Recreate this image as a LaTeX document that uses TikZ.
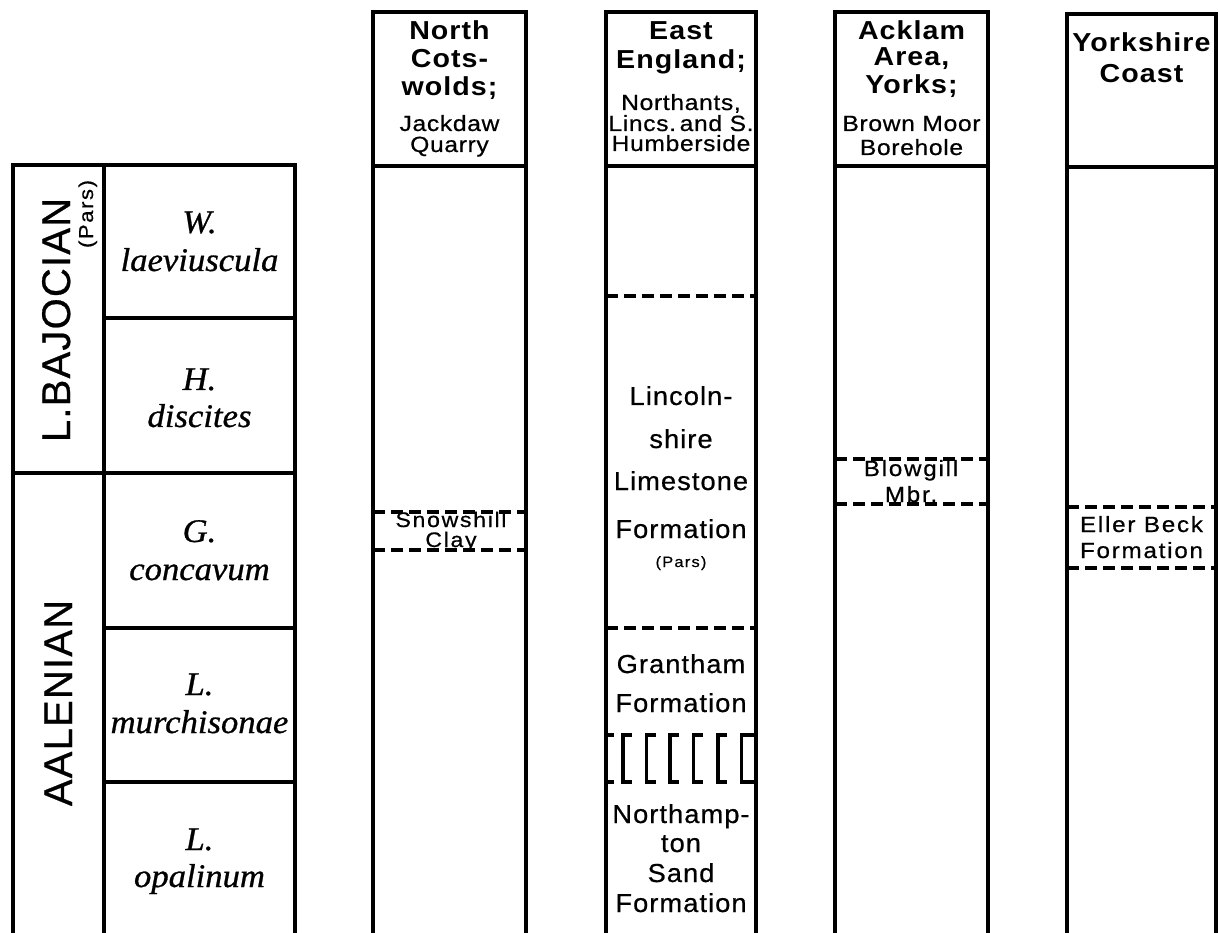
\documentclass[tikz,border=0pt]{standalone}
\usepackage{fontspec}
\setmainfont{Liberation Sans}
\newfontfamily\fhead{Liberation Sans}[FakeStretch=1.1,LetterSpace=4]
\newfontfamily\freg{Liberation Sans}[FakeStretch=1.12,LetterSpace=3,FakeBold=0.6]
\newfontfamily\fbody{Liberation Sans}[FakeStretch=1.05,LetterSpace=4,FakeBold=0.6]
\newfontfamily\fsmall{Liberation Sans}[FakeStretch=1.1,LetterSpace=8,FakeBold=0.6]
\newfontfamily\fbig{Liberation Sans}[LetterSpace=3,FakeBold=0.6]
\newfontfamily\fzone{Liberation Serif}[FakeStretch=1.05,FakeBold=0.8]
\begin{document}
\begin{tikzpicture}[x=1pt,y=-1pt,
  wall/.style={line width=3.2pt},
  dsh/.style={line width=3.2pt, dash pattern=on 12pt off 6pt},
  hb/.style={font=\fhead\bfseries\fontsize{26}{28}\selectfont, anchor=base, inner sep=0pt},
  hr/.style={font=\freg\fontsize{22}{24}\selectfont, anchor=base, inner sep=0pt},
  bd/.style={font=\fbody\fontsize{26}{28}\selectfont, anchor=base, inner sep=0pt},
  sm/.style={font=\fsmall\fontsize{22}{24}\selectfont, anchor=base, inner sep=0pt},
  smc/.style={font=\fsmall\fontsize{21}{23}\selectfont, anchor=base, inner sep=0pt},
  tiny/.style={font=\fsmall\fontsize{15}{17}\selectfont, anchor=base, inner sep=0pt},
  big/.style={font=\fbig\fontsize{40}{44}\selectfont, anchor=base, inner sep=0pt, rotate=90},
  zn/.style={font=\fzone\itshape\fontsize{33}{36}\selectfont, anchor=base, inner sep=0pt}]
\useasboundingbox (0,0) rectangle (1219,933);

% ---------------- left stratigraphic table ----------------
\draw[wall] (13,933) -- (13,165) -- (295,165) -- (295,933);
\draw[wall] (104,165) -- (104,933);
\draw[wall] (104,318) -- (295,318);
\draw[wall] (13,473) -- (295,473);
\draw[wall] (104,628) -- (295,628);
\draw[wall] (104,782) -- (295,782);

\node[big] (baj) at (70,320) {L.BAJOCIAN};
\node[font=\fsmall\fontsize{20}{22}\selectfont, anchor=base, inner sep=0pt, rotate=90] (bajpars) at (93,214) {(Pars)};
\node[big] (aal) at (72,703) {AALENIAN};

\node[zn] (z1a) at (199.5,233) {W.};
\node[zn] (z1b) at (199.5,271) {laeviuscula};
\node[zn] (z2a) at (199.5,390) {H.};
\node[zn] (z2b) at (199.5,427) {discites};
\node[zn] (z3a) at (199.5,542) {G.};
\node[zn] (z3b) at (199.5,580) {concavum};
\node[zn] (z4a) at (199.5,695) {L.};
\node[zn] (z4b) at (199.5,733) {murchisonae};
\node[zn] (z5a) at (199.5,850) {L.};
\node[zn] (z5b) at (199.5,887) {opalinum};

% ---------------- column frames ----------------
\draw[wall] (373,933) -- (373,12) -- (526,12) -- (526,933);
\draw[wall] (373,166) -- (526,166);
\draw[wall] (606,933) -- (606,12) -- (756,12) -- (756,933);
\draw[wall] (606,166) -- (756,166);
\draw[wall] (835,933) -- (835,12) -- (988,12) -- (988,933);
\draw[wall] (835,166) -- (988,166);
\draw[wall] (1067,933) -- (1067,14) -- (1216,14) -- (1216,933);
\draw[wall] (1067,167) -- (1216,167);

% ---------------- headers ----------------
\node[hb] (nc1) at (449.5,40) {North};
\node[hb] (nc2) at (449.5,68) {Cots-};
\node[hb] (nc3) at (449.5,96) {wolds;};
\node[hr] (nc4) at (449.5,131) {Jackdaw};
\node[hr] (nc5) at (449.5,152) {Quarry};

\node[hb] (ee1) at (681,40) {East};
\node[hb] (ee2) at (681,69) {England;};
\node[hr] (ee3) at (681,110) {Northants,};
\node[hr] (ee4) at (681,131) {Lincs.\,and S.};
\node[hr] (ee5) at (681,151) {Humberside};

\node[hb] (ak1) at (911.5,40) {Acklam};
\node[hb] (ak2) at (911.5,66) {Area,};
\node[hb] (ak3) at (911.5,94) {Yorks;};
\node[hr] (ak4) at (911.5,131) {Brown Moor};
\node[hr] (ak5) at (911.5,155) {Borehole};

\node[hb] (yc1) at (1141.5,52) {Yorkshire};
\node[hb] (yc2) at (1141.5,83) {Coast};

% ---------------- North Cotswolds ----------------
\draw[dsh] (373,512) -- (526,512);
\draw[dsh] (373,550) -- (526,550);
\node[smc] (snow1) at (451,527) {Snowshill};
\node[smc] (snow2) at (451,547) {Clay};

% ---------------- East England ----------------
\draw[dsh] (606,296) -- (756,296);
\draw[dsh] (606,628) -- (756,628);
\node[bd] (li1) at (681,405) {Lincoln-};
\node[bd] (li2) at (681,448) {shire};
\node[bd] (li3) at (681,490) {Limestone};
\node[bd] (li4) at (681,538) {Formation};
\node[tiny] (li5) at (681,567) {(Pars)};
\node[bd] (gr1) at (681,673) {Grantham};
\node[bd] (gr2) at (681,712) {Formation};
\node[bd] (ns1) at (681,823) {Northamp-};
\node[bd] (ns2) at (681,852) {ton};
\node[bd] (ns3) at (681,882) {Sand};
\node[bd] (ns4) at (681,912) {Formation};
% non-sequence symbol
\draw[wall] (606,735) -- (614,735);
\draw[wall] (606,782) -- (614,782);
\foreach \xx in {623,646.5,670,693.5,718,741.5}
  \draw[wall] (\xx+9,735) -- (\xx,735) -- (\xx,782) -- (\xx+9,782);
\draw[wall] (750,735) -- (756,735);
\draw[wall] (750,782) -- (756,782);

% ---------------- Acklam ----------------
\draw[dsh] (835,459) -- (988,459);
\draw[dsh] (835,504) -- (988,504);
\node[sm] (bl1) at (911,476) {Blowgill};
\node[sm] (bl2) at (911,502) {Mbr.};

% ---------------- Yorkshire Coast ----------------
\draw[dsh] (1067,507) -- (1216,507);
\draw[dsh] (1067,568) -- (1216,568);
\node[sm] (eb1) at (1141.5,532) {Eller Beck};
\node[sm] (eb2) at (1141.5,558) {Formation};
\end{tikzpicture}
\end{document}
